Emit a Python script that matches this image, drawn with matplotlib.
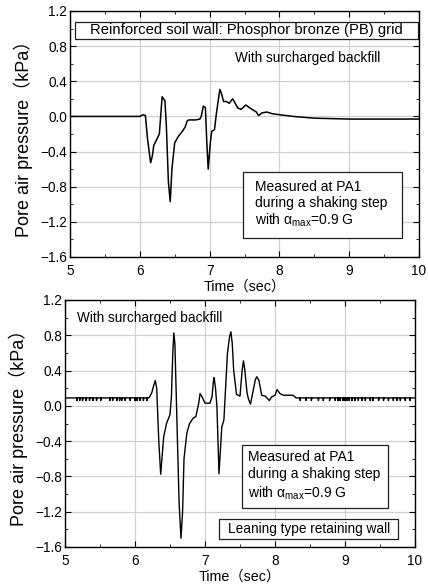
import numpy as np
import matplotlib.pyplot as plt
from matplotlib.patches import Rectangle
from matplotlib.ticker import MultipleLocator

plt.rcParams['font.family'] = ['Liberation Sans', 'Noto Sans CJK JP']
plt.rcParams['mathtext.fontset'] = 'custom'
plt.rcParams['mathtext.rm'] = 'Liberation Sans'
plt.rcParams['mathtext.it'] = 'Liberation Sans:italic'

# top panel: reinforced soil wall (PB grid)
t_top = [5.0, 5.5, 6.0, 6.05, 6.08, 6.11, 6.155, 6.18, 6.2, 6.25, 6.28, 6.32, 6.36, 6.38,
         6.41, 6.436, 6.46, 6.5, 6.55, 6.6, 6.65, 6.68, 6.7, 6.8, 6.86, 6.88, 6.91, 6.94,
         6.96, 6.98, 7.01, 7.03, 7.07, 7.1, 7.147, 7.17, 7.2, 7.24, 7.28, 7.33, 7.36, 7.4,
         7.45, 7.52, 7.57, 7.63, 7.67, 7.7, 7.75, 7.82, 7.9, 8.0, 8.2, 8.5, 9.0, 9.5, 10.0]
p_top = [0.0, 0.0, 0.0, 0.02, 0.01, -0.25, -0.527, -0.45, -0.33, -0.25, -0.2, 0.224, 0.18, -0.1,
         -0.75, -0.97, -0.6, -0.3, -0.23, -0.18, -0.12, -0.05, -0.04, -0.04, -0.03, 0.0, 0.118, 0.1,
         -0.3, -0.6, -0.3, -0.17, -0.15, 0.05, 0.307, 0.26, 0.17, 0.17, 0.15, 0.2, 0.16, 0.1,
         0.08, 0.13, 0.1, 0.07, 0.05, 0.01, 0.04, 0.05, 0.03, 0.02, 0.0, -0.02, -0.03, -0.03, -0.03]

# bottom panel: leaning type retaining wall
t_bot = [6.2, 6.24, 6.27, 6.29, 6.31, 6.34, 6.367, 6.39, 6.41, 6.45, 6.5, 6.52, 6.54, 6.555,
         6.57, 6.6, 6.63, 6.657, 6.68, 6.7, 6.74, 6.78, 6.83, 6.87, 6.91, 6.93, 6.96, 7.0,
         7.07, 7.1, 7.12, 7.13, 7.15, 7.17, 7.2, 7.22, 7.24, 7.27, 7.32, 7.35, 7.37, 7.39,
         7.41, 7.45, 7.5, 7.53, 7.55, 7.57, 7.6, 7.62, 7.65, 7.69, 7.72, 7.74, 7.77,
         7.81, 7.86, 7.92, 7.95, 8.0, 8.03, 8.07, 8.12, 8.26, 8.3]
p_bot = [0.09, 0.15, 0.24, 0.287, 0.2, -0.4, -0.775, -0.55, -0.35, -0.2, -0.1, 0.1, 0.6, 0.827,
         0.7, -0.2, -1.1, -1.5, -1.2, -0.6, -0.31, -0.2, -0.14, -0.12, 0.03, 0.14, 0.1, 0.03,
         0.03, 0.1, 0.28, 0.32, 0.2, 0.0, -0.77, -0.5, -0.24, -0.16, 0.59, 0.78, 0.84, 0.7,
         0.4, 0.13, 0.11, 0.4, 0.51, 0.4, 0.15, 0.08, 0.02, 0.18, 0.3, 0.33, 0.29,
         0.12, 0.11, 0.06, 0.1, 0.12, 0.185, 0.14, 0.12, 0.12, 0.09]
base_level = 0.09
spike_level = 0.06
spikes_before = [5.17, 5.21, 5.25, 5.30, 5.35, 5.40, 5.45, 5.51, 5.64, 5.68, 5.74, 5.78,
                 5.81, 5.86, 5.93, 6.0, 6.03, 6.07, 6.12, 6.17]
spikes_after = [8.36, 8.44, 8.52, 8.62, 8.69, 8.78, 8.86, 8.90, 8.93, 8.97, 9.0, 9.03, 9.06,
                9.10, 9.14, 9.19, 9.24, 9.29, 9.36, 9.40, 9.48, 9.55, 9.62, 9.69, 9.74,
                9.79, 9.86, 9.93]


def baseline(t0, t1, spikes):
    xs, ys = [t0], [base_level]
    for s in spikes:
        xs += [s, s, s + 0.004]
        ys += [base_level, spike_level, base_level]
    xs.append(t1)
    ys.append(base_level)
    return xs, ys


bx0, by0 = baseline(5.0, t_bot[0], spikes_before)
bx1, by1 = baseline(t_bot[-1], 10.0, spikes_after)
t_bottom = bx0 + t_bot + bx1
p_bottom = by0 + p_bot + by1

fig = plt.figure(figsize=(4.28, 5.84), dpi=100)
ax1 = fig.add_axes([70 / 428, 1 - 257 / 584, 349 / 428, 246 / 584])
ax2 = fig.add_axes([65 / 428, 1 - 547 / 584, 350 / 428, 247 / 584])

fs = 9.8
for ax in (ax1, ax2):
    ax.set_xlim(5, 10)
    ax.set_ylim(-1.6, 1.2)
    ax.xaxis.set_major_locator(MultipleLocator(1))
    ax.xaxis.set_minor_locator(MultipleLocator(0.5))
    ax.yaxis.set_major_locator(MultipleLocator(0.4))
    ax.yaxis.set_minor_locator(MultipleLocator(0.2))
    ax.yaxis.set_major_formatter(plt.FuncFormatter(lambda v, p: f"{v:.1f}".replace('-', '\u2212')))
    ax.tick_params(which='both', direction='in', top=True, right=True, labelsize=fs)
    ax.tick_params(axis='x', which='major', pad=5)
    ax.tick_params(axis='y', which='major', pad=2)
    ax.tick_params(which='major', length=4)
    ax.tick_params(which='minor', length=2.5)
    ax.grid(True, which='major', color='#d0d0d0', lw=0.9)
    ax.set_axisbelow(True)
    for sp in ax.spines.values():
        sp.set_linewidth(1.0)
    ax.set_xlabel('Time\uff08sec\uff09', fontsize=fs + 0.5, labelpad=1)
    ax.set_ylabel('Pore air pressure\uff08kPa\uff09', fontsize=13, labelpad=5)

ax1.plot(t_top, p_top, color='black', lw=1.1)
ax2.plot(t_bottom, p_bottom, color='black', lw=1.0)


def box(ax, x0, y0, x1, y1):
    ax.add_patch(Rectangle((x0, y0), x1 - x0, y1 - y0, transform=ax.transAxes,
                           facecolor='white', edgecolor='#202020', lw=0.9, zorder=3))


# top annotations
box(ax1, 0.0143, 0.886, 0.997, 0.955)
ax1.text(0.506, 0.921, 'Reinforced soil wall: Phosphor bronze (PB) grid', transform=ax1.transAxes,
         ha='center', va='center', fontsize=10.7, zorder=4)
ax1.text(0.682, 0.809, 'With surcharged backfill', transform=ax1.transAxes,
         ha='center', va='center', fontsize=fs)
box(ax1, 0.496, 0.077, 0.951, 0.3455)
ax1.text(0.530, 0.285, 'Measured at PA1', transform=ax1.transAxes, va='center', fontsize=10, zorder=4)
ax1.text(0.530, 0.218, 'during a shaking step', transform=ax1.transAxes, va='center', fontsize=10, zorder=4)
ax1.text(0.530, 0.150, r'with $\mathrm{\alpha_{max}}$=0.9 G', transform=ax1.transAxes, va='center',
         fontsize=10, zorder=4)

# bottom annotations
ax2.text(0.034, 0.927, 'With surcharged backfill', transform=ax2.transAxes,
         ha='left', va='center', fontsize=fs)
box(ax2, 0.506, 0.158, 0.923, 0.413)
ax2.text(0.523, 0.364, 'Measured at PA1', transform=ax2.transAxes, va='center', fontsize=10, zorder=4)
ax2.text(0.523, 0.294, 'during a shaking step', transform=ax2.transAxes, va='center', fontsize=10, zorder=4)
ax2.text(0.523, 0.219, r'with $\mathrm{\alpha_{max}}$=0.9 G', transform=ax2.transAxes, va='center',
         fontsize=10, zorder=4)
box(ax2, 0.44, 0.032, 0.951, 0.113)
ax2.text(0.696, 0.073, 'Leaning type retaining wall', transform=ax2.transAxes,
         ha='center', va='center', fontsize=fs, zorder=4)

fig.savefig('out.png', dpi=100)
